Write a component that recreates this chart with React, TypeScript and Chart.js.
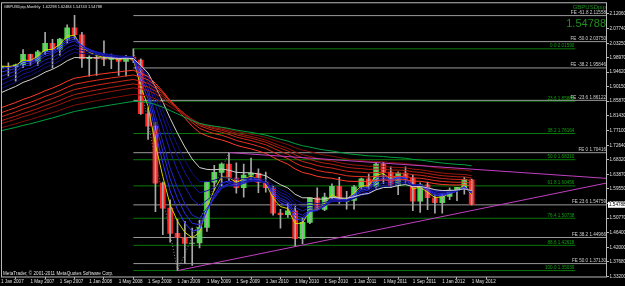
import React, { useEffect, useRef } from "react";
import { Chart, registerables } from "chart.js";

Chart.register(...registerables);

// ---------- data ----------
const chartTitle = "GBPUSDpip,Monthly  1.62298 1.62484 1.54743 1.54788";
const symbolName = "GBPUSDpip";
const copyrightText = "MetaTrader, \u00A9 2001-2011 MetaQuotes Software Corp.";

const tickLabels = [
  "1 Jan 2007", "1 May 2007", "1 Sep 2007", "1 Jan 2008", "1 May 2008", "1 Sep 2008",
  "1 Jan 2009", "1 May 2009", "1 Sep 2009", "1 Jan 2010", "1 May 2010", "1 Sep 2010",
  "1 Jan 2011", "1 May 2011", "1 Sep 2011", "1 Jan 2012", "1 May 2012",
];
const tickMonths = [0, 4, 8, 12, 16, 20, 24, 28, 32, 36, 40, 44, 48, 52, 56, 60, 64];

const priceTicks = [
  2.1206, 2.0774, 2.0325, 1.9897, 1.9462, 1.9015, 1.8587, 1.8143, 1.771, 1.7264,
  1.6832, 1.6387, 1.5955, 1.5508, 1.5077, 1.464, 1.42, 1.3768, 1.332,
];

// monthly candles Jan 2007 .. May 2012
const opens = [
  1.9585, 1.963, 1.962, 1.968, 1.9995, 1.9785, 2.007, 2.032, 2.015, 2.045, 2.079, 2.058,
  1.986, 1.99, 1.986, 1.984, 1.987, 1.978, 1.991, 1.982, 1.821, 1.784, 1.613, 1.538,
  1.462, 1.449, 1.432, 1.433, 1.48, 1.616, 1.645, 1.67, 1.628, 1.599, 1.637, 1.642,
  1.615, 1.599, 1.523, 1.518, 1.53, 1.446, 1.495, 1.569, 1.534, 1.571, 1.603, 1.558,
  1.561, 1.602, 1.626, 1.604, 1.67, 1.646, 1.606, 1.643, 1.628, 1.559, 1.608, 1.569,
  1.554, 1.573, 1.592, 1.6, 1.62298,
];
const highs = [
  1.9847, 1.974, 1.97, 2.0133, 2.0, 2.011, 2.0657, 2.044, 2.047, 2.088, 2.1161, 2.065,
  1.995, 1.998, 2.0395, 2.0, 1.988, 1.996, 2.0157, 1.986, 1.839, 1.795, 1.616, 1.563,
  1.504, 1.498, 1.478, 1.501, 1.618, 1.666, 1.674, 1.7045, 1.674, 1.67, 1.688, 1.656,
  1.646, 1.604, 1.534, 1.553, 1.543, 1.509, 1.569, 1.599, 1.583, 1.611, 1.63, 1.588,
  1.606, 1.628, 1.64, 1.675, 1.675, 1.662, 1.647, 1.662, 1.638, 1.614, 1.616, 1.578,
  1.58, 1.599, 1.6, 1.63, 1.62484,
];
const lows = [
  1.944, 1.9345, 1.9185, 1.959, 1.966, 1.966, 1.999, 1.958, 1.997, 2.033, 2.045, 1.96,
  1.934, 1.936, 1.965, 1.956, 1.936, 1.934, 1.974, 1.819, 1.744, 1.527, 1.458, 1.436,
  1.3503, 1.371, 1.366, 1.418, 1.468, 1.592, 1.604, 1.62, 1.583, 1.571, 1.622, 1.584,
  1.586, 1.517, 1.478, 1.51, 1.423, 1.431, 1.491, 1.534, 1.53, 1.565, 1.552, 1.535,
  1.535, 1.595, 1.595, 1.593, 1.611, 1.599, 1.578, 1.612, 1.53, 1.525, 1.533, 1.523,
  1.523, 1.563, 1.56, 1.58, 1.54743,
];
const closes = [
  1.963, 1.962, 1.968, 1.9995, 1.9785, 2.007, 2.032, 2.015, 2.045, 2.079, 2.058, 1.986,
  1.99, 1.986, 1.984, 1.987, 1.978, 1.991, 1.982, 1.821, 1.784, 1.613, 1.538, 1.462,
  1.449, 1.432, 1.433, 1.48, 1.616, 1.645, 1.67, 1.628, 1.599, 1.637, 1.642, 1.615,
  1.599, 1.523, 1.518, 1.53, 1.446, 1.495, 1.569, 1.534, 1.571, 1.603, 1.558, 1.561,
  1.602, 1.626, 1.604, 1.67, 1.646, 1.606, 1.643, 1.628, 1.559, 1.608, 1.569, 1.554,
  1.573, 1.592, 1.6, 1.624, 1.54788,
];

// moving-average ribbon: periods and their values at Jan 2007
const emaPeriods = [3, 4, 5, 6, 8, 10, 12, 15, 30, 35, 40, 45, 50, 60, 75];
const emaStart = [
  1.964, 1.958, 1.946, 1.933, 1.921, 1.908, 1.896, 1.884,
  1.839, 1.824, 1.812, 1.8, 1.791, 1.779, 1.77,
];
const emaColors = [
  "#d4d400",
  "#3434ff", "#2c2ce6", "#2424cc", "#1c1cb3", "#151599", "#0f0f80",
  "#d0d0d0",
  "#ff3a2a", "#e63020", "#cc2818", "#b32012", "#99180c", "#801008",
  "#00a040",
];

// Fibonacci retracement (Jul 2008 high -> Jan 2009 low)
const fibPercents = [0, 23.6, 38.2, 50, 61.8, 76.4, 88.6, 100];
const fibHigh = 2.0159;
const fibLow = 1.3503;
const fibFromMonth = 18;
const fibToMonth = 78.1;

// Fibonacci expansion levels
const feNames = ["-61.8", "-50.0", "-38.2", "-23.6", "0", "23.6", "38.2", "50.0"];
const fePrices = [2.11558, 2.0375, 1.95846, 1.86122, 1.70416, 1.54759, 1.44966, 1.3713];
const feFromMonth = 18;

// zigzag anchors of the expansion and trend lines (month index, price)
const zigzagMonths = [18, 24, 31];
const zigzagPrices = [2.0157, 1.3503, 1.7045];
const trendDownMonths = [31, 82.4];
const trendDownPrices = [1.7045, 1.627];
const trendUpMonths = [24, 82.4];
const trendUpPrices = [1.3503, 1.6134];

const xMin = 0;
const xMax = 82.4;
const yMin = 1.3311;
const yMax = 2.1526;

const FONT = '"Liberation Sans", Arial, sans-serif';

function ema(values: number[], period: number, seed: number): number[] {
  const a = 2 / (period + 1);
  let e = seed;
  return values.map((v, i) => {
    if (i > 0) e = e + a * (v - e);
    return e;
  });
}

export default function App() {
  const ref = useRef<HTMLCanvasElement | null>(null);

  useEffect(() => {
    const canvas = ref.current;
    if (!canvas) return;

    const idx = closes.map((_, i) => i);
    const bull = closes.map((c, i) => c >= opens[i]);

    const datasets: any[] = [];

    // FE horizontal lines
    fePrices.forEach((p) => {
      datasets.push({
        type: "line",
        data: [{ x: feFromMonth, y: p }, { x: xMax, y: p }],
        borderColor: "#9a9a9a",
        borderWidth: 1,
        pointRadius: 0,
        order: 5,
      });
    });
    // Fibonacci retracement lines
    fibPercents.forEach((pct) => {
      const p = fibHigh - (pct / 100) * (fibHigh - fibLow);
      datasets.push({
        type: "line",
        data: [{ x: fibFromMonth, y: p }, { x: fibToMonth, y: p }],
        borderColor: "#0a7a0a",
        borderWidth: 1,
        pointRadius: 0,
        order: 5,
      });
    });
    // zigzag (dotted)
    datasets.push({
      type: "line",
      data: zigzagMonths.map((m, i) => ({ x: m, y: zigzagPrices[i] })),
      borderColor: "#8a8a8a",
      borderWidth: 1,
      borderDash: [1, 2],
      pointRadius: 0,
      order: 5,
    });

    // candles: wicks + bodies
    datasets.push({
      type: "bar",
      data: idx.map((i) => ({ x: i, y: [lows[i], highs[i]] })),
      backgroundColor: "#a8a8a8",
      barThickness: 1,
      grouped: false,
      order: 3,
    });
    datasets.push({
      type: "bar",
      data: idx.map((i) => ({ x: i, y: [opens[i], closes[i]] })),
      backgroundColor: bull.map((b) => (b ? "#3ee03e" : "#ff2020")),
      barThickness: 5,
      grouped: false,
      order: 3,
    });

    // ribbon of moving averages (slowest drawn first)
    for (let k = emaPeriods.length - 1; k >= 0; k--) {
      const vals = ema(closes, emaPeriods[k], emaStart[k]);
      datasets.push({
        type: "line",
        data: idx.map((i) => ({ x: i, y: vals[i] })),
        borderColor: emaColors[k],
        borderWidth: 1,
        pointRadius: 0,
        tension: 0,
        order: 2,
      });
    }

    // trend lines
    datasets.push({
      type: "line",
      data: trendDownMonths.map((m, i) => ({ x: m, y: trendDownPrices[i] })),
      borderColor: "#c040c0",
      borderWidth: 1,
      pointRadius: 0,
      order: 1,
    });
    datasets.push({
      type: "line",
      data: trendUpMonths.map((m, i) => ({ x: m, y: trendUpPrices[i] })),
      borderColor: "#c040c0",
      borderWidth: 1,
      pointRadius: 0,
      order: 1,
    });

    const overlay = {
      id: "mtOverlay",
      beforeDraw(chart: any) {
        const { ctx } = chart;
        ctx.save();
        ctx.fillStyle = "#000000";
        ctx.fillRect(0, 0, chart.width, chart.height);
        ctx.restore();
      },
      afterDraw(chart: any) {
        const { ctx, chartArea: ca, scales } = chart;
        const xs = scales.x;
        const ys = scales.y;
        ctx.save();
        // level labels
        ctx.font = `4.6px ${FONT}`;
        ctx.textBaseline = "bottom";
        ctx.textAlign = "right";
        fibPercents.forEach((pct) => {
          const p = fibHigh - (pct / 100) * (fibHigh - fibLow);
          ctx.fillStyle = "#0fa00f";
          ctx.fillText(
            `${pct.toFixed(1)} ${p.toFixed(5)}`,
            xs.getPixelForValue(fibToMonth) - 1,
            ys.getPixelForValue(p) - 0.5
          );
        });
        fePrices.forEach((p, i) => {
          ctx.fillStyle = "#d0d0d0";
          ctx.fillText(
            `FE ${feNames[i]} ${p.toFixed(5)}`,
            ca.right - 1,
            ys.getPixelForValue(p) - 0.5
          );
        });

        // frame
        ctx.strokeStyle = "#b8b8b8";
        ctx.lineWidth = 1;
        ctx.strokeRect(ca.left + 0.5, ca.top - 0.5, ca.right - ca.left - 1, ca.bottom - ca.top + 0.5);

        // header
        ctx.textAlign = "left";
        ctx.textBaseline = "alphabetic";
        ctx.fillStyle = "#e0e0e0";
        ctx.font = `3.9px ${FONT}`;
        ctx.fillText(chartTitle, 4, 8);
        ctx.font = `4.6px ${FONT}`;
        ctx.fillText(copyrightText, 3, 275);

        ctx.textAlign = "right";
        ctx.fillStyle = "#1f8f1f";
        ctx.font = `6px ${FONT}`;
        ctx.fillText(symbolName, ca.right - 1, 8.5);
        ctx.font = `11px ${FONT}`;
        ctx.fillText(closes[closes.length - 1].toFixed(5), ca.right - 1, 27);

        // last price box on the axis
        const yp = ys.getPixelForValue(closes[closes.length - 1]);
        ctx.fillStyle = "#ffffff";
        ctx.fillRect(ca.right + 1, yp - 3, 625 - ca.right, 6);
        ctx.fillStyle = "#000000";
        ctx.font = `4.6px ${FONT}`;
        ctx.textAlign = "left";
        ctx.textBaseline = "middle";
        ctx.fillText(closes[closes.length - 1].toFixed(5), ca.right + 2, yp + 0.3);
        ctx.restore();
      },
    };

    const chart = new Chart(canvas, {
      type: "bar",
      data: { datasets },
      options: {
        animation: false,
        responsive: false,
        devicePixelRatio: 1,
        layout: { padding: { left: 1, top: 2, right: 0, bottom: 0 } },
        plugins: { legend: { display: false }, tooltip: { enabled: false } },
        scales: {
          x: {
            type: "linear",
            min: xMin,
            max: xMax,
            offset: false,
            afterBuildTicks: (s: any) => {
              s.ticks = tickMonths.map((v) => ({ value: v }));
            },
            afterFit: (s: any) => {
              s.height = 9;
            },
            ticks: {
              autoSkip: false,
              maxRotation: 0,
              align: "start",
              padding: 0,
              color: "#e0e0e0",
              font: { family: FONT, size: 4.6 },
              callback: (v: any) => {
                const k = tickMonths.indexOf(Number(v));
                return k >= 0 ? tickLabels[k] : "";
              },
            },
            grid: {
              drawOnChartArea: false,
              drawTicks: true,
              tickLength: 2,
              color: "#b8b8b8",
            },
            border: { display: false },
          },
          y: {
            type: "linear",
            position: "right",
            min: yMin,
            max: yMax,
            afterBuildTicks: (s: any) => {
              s.ticks = priceTicks.map((v) => ({ value: v }));
            },
            afterFit: (s: any) => {
              s.width = 18;
            },
            ticks: {
              padding: 0.5,
              color: "#e0e0e0",
              font: { family: FONT, size: 4.6 },
              callback: (v: any) => Number(v).toFixed(5),
            },
            grid: {
              drawOnChartArea: false,
              drawTicks: true,
              tickLength: 2,
              color: "#b8b8b8",
            },
            border: { display: false },
          },
        },
      } as any,
      plugins: [overlay],
    });

    return () => chart.destroy();
  }, []);

  return (
    <div
      style={{
        position: "fixed",
        left: 0,
        top: 0,
        width: 625,
        height: 286,
        background: "#000",
      }}
    >
      <canvas ref={ref} width={625} height={286} style={{ width: 625, height: 286, display: "block" }} />
    </div>
  );
}
